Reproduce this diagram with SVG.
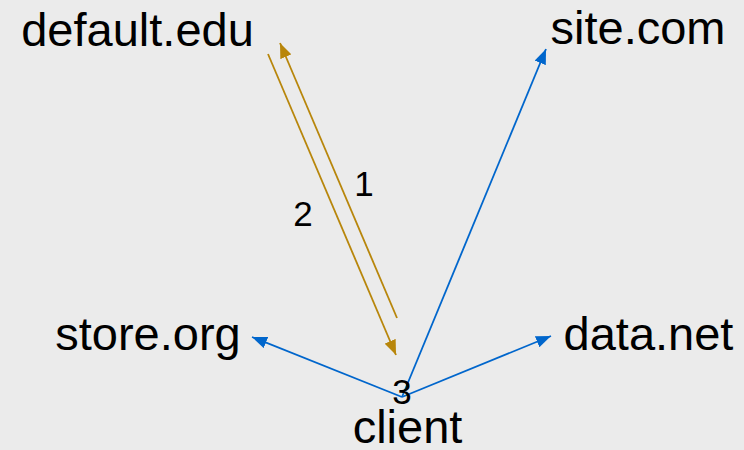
<svg xmlns="http://www.w3.org/2000/svg" width="744" height="450" viewBox="0 0 744 450">
<style>
.n{font-family:"Liberation Sans",Arial,sans-serif;font-size:47px;fill:#000;text-anchor:middle}
.l{font-family:"Liberation Sans",Arial,sans-serif;font-size:35px;fill:#000;text-anchor:middle}
.g{stroke:#b8860b;stroke-width:1.8;fill:none}
.b{stroke:#0066cc;stroke-width:1.8;fill:none}
</style>
<defs>
<marker id="ag" viewBox="0 0 10 8" refX="10" refY="4" markerWidth="15" markerHeight="12" markerUnits="userSpaceOnUse" orient="auto"><path d="M0,0L10,4L0,8z" fill="#b8860b"/></marker>
<marker id="ab" viewBox="0 0 10 8" refX="10" refY="4" markerWidth="15" markerHeight="12" markerUnits="userSpaceOnUse" orient="auto"><path d="M0,0L10,4L0,8z" fill="#0066cc"/></marker>
</defs>
<rect width="744" height="450" fill="#ebebeb"/>
<g id="connectors">
<path class="g" d="M397,318L280,43" marker-end="url(#ag)"/>
<path class="g" d="M268,54L396,355" marker-end="url(#ag)"/>
<path class="b" d="M402,397L546,49" marker-end="url(#ab)"/>
<path class="b" d="M402,397L252,337" marker-end="url(#ab)"/>
<path class="b" d="M402,397L551,336" marker-end="url(#ab)"/>
<text class="l" x="364" y="196">1</text>
<text class="l" x="303" y="226">2</text>
<text class="l" x="402" y="404">3</text>
</g>
<g id="default"><text class="n" x="137.5" y="46">default.edu</text></g>
<g id="site"><text class="n" x="638" y="44">site.com</text></g>
<g id="store"><text class="n" x="148" y="350">store.org</text></g>
<g id="data"><text class="n" x="648.5" y="350">data.net</text></g>
<g id="client"><text class="n" x="407.5" y="443">client</text></g>
</svg>
